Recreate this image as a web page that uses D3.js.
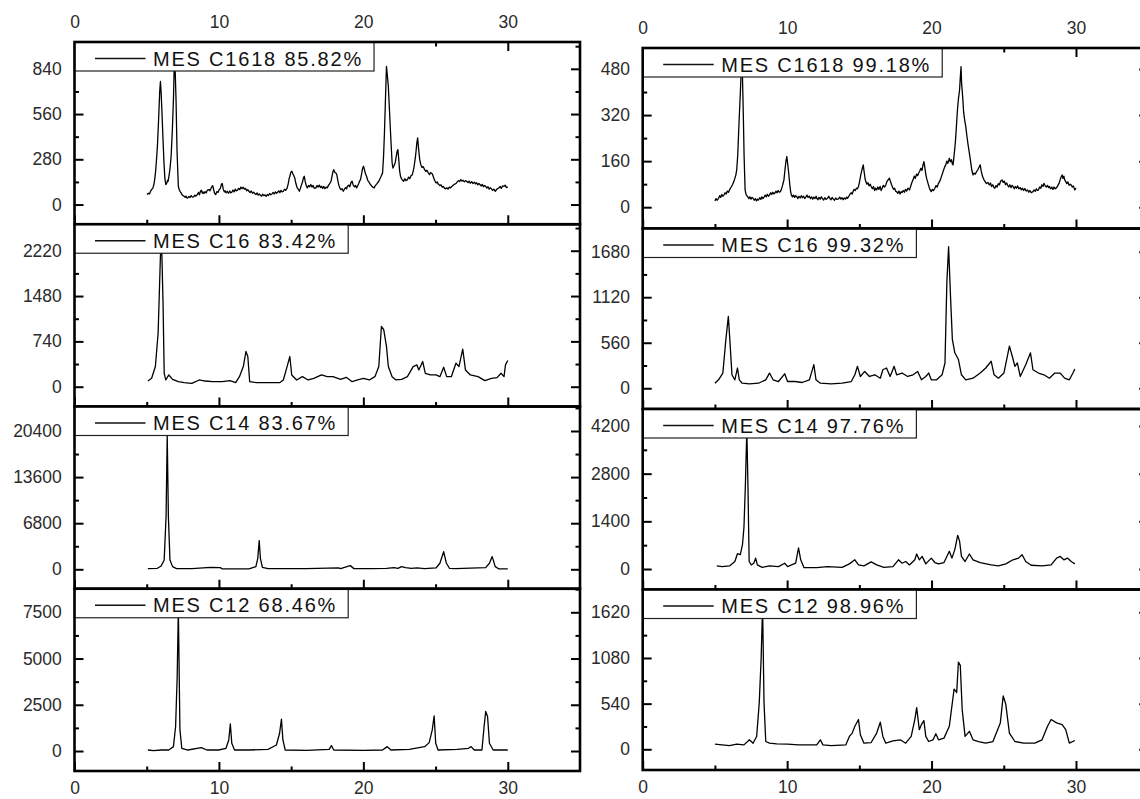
<!DOCTYPE html>
<html>
<head>
<meta charset="utf-8">
<script src="https://cdn.jsdelivr.net/npm/d3@7"></script>
<style>
  body { margin: 0; background: #fff; }
  svg { display: block; font-family: "Liberation Sans", Arial, sans-serif; }
</style>
</head>
<body>
<svg id="chart" width="1140" height="799"></svg>
<script>
// ---- data ----
var xTicksMajor = [0, 10, 20, 30];
var xTicksMinor = [5, 15, 25];

var legendLeft  = ["MES C1618 85.82%", "MES C16 83.42%", "MES C14 83.67%", "MES C12 68.46%"];
var legendRight = ["MES C1618 99.18%", "MES C16 99.32%", "MES C14 97.76%", "MES C12 98.96%"];

var yTicksLeft  = [[0, 280, 560, 840], [0, 740, 1480, 2220], [0, 6800, 13600, 20400], [0, 2500, 5000, 7500]];
var yTicksRight = [[0, 160, 320, 480], [0, 560, 1120, 1680], [0, 1400, 2800, 4200], [0, 540, 1080, 1620]];

var yDomainsLeft  = [[-122, 1006], [-323, 2652], [-2869, 24014], [-1081, 8773]];
var yDomainsRight = [[-74, 553], [-255, 1965], [-602, 4699], [-245, 1890]];

var c1618a = [[5.02,62],[5.12,70],[5.2,66],[5.28,85],[5.34,93],[5.42,100],[5.5,125],[5.55,154],[5.62,210],[5.68,280],[5.74,360],[5.82,520],[5.9,700],[5.95,762],[6.0,690],[6.06,560],[6.13,401],[6.2,250],[6.26,160],[6.32,124],[6.38,130],[6.44,150],[6.48,144],[6.55,180],[6.62,230],[6.69,299],[6.77,450],[6.85,649],[6.93,957],[7.03,649],[7.1,330],[7.19,113],[7.26,90],[7.32,80],[7.38,72],[7.45,60],[7.52,55],[7.59,51],[7.66,45],[7.72,52],[7.79,40],[7.85,41],[7.93,50],[8.0,44],[8.08,55],[8.16,46],[8.25,47],[8.33,58],[8.41,52],[8.51,62],[8.58,75],[8.65,60],[8.72,82],[8.78,89],[8.85,70],[8.9,78],[8.96,68],[9.04,80],[9.12,72],[9.2,90],[9.3,93],[9.38,85],[9.45,100],[9.52,112],[9.57,117],[9.64,90],[9.7,70],[9.78,62],[9.86,80],[9.94,75],[10.02,93],[10.1,100],[10.17,125],[10.23,130],[10.3,95],[10.38,78],[10.44,85],[10.49,72],[10.58,82],[10.66,70],[10.75,84],[10.82,72],[10.89,76],[10.97,90],[11.05,78],[11.13,95],[11.2,85],[11.29,89],[11.36,100],[11.44,92],[11.52,108],[11.6,98],[11.68,107],[11.76,95],[11.84,100],[11.92,85],[12.0,92],[12.08,82],[12.16,74],[12.24,84],[12.32,70],[12.4,76],[12.48,68],[12.56,62],[12.64,72],[12.72,58],[12.8,66],[12.87,58],[12.95,52],[13.03,64],[13.11,55],[13.19,60],[13.27,51],[13.35,62],[13.43,56],[13.51,68],[13.59,60],[13.67,66],[13.75,75],[13.83,65],[13.91,78],[13.99,70],[14.06,76],[14.14,85],[14.22,74],[14.3,88],[14.38,78],[14.46,82],[14.54,95],[14.62,88],[14.72,101],[14.8,130],[14.86,160],[14.91,175],[14.98,200],[15.05,206],[15.12,190],[15.18,180],[15.25,165],[15.33,130],[15.41,105],[15.49,95],[15.57,82],[15.64,100],[15.71,120],[15.78,138],[15.85,165],[15.91,175],[15.98,140],[16.05,115],[16.12,103],[16.2,118],[16.28,110],[16.36,124],[16.44,108],[16.52,118],[16.6,100],[16.71,103],[16.79,118],[16.87,108],[16.95,120],[17.03,105],[17.1,113],[17.18,100],[17.26,112],[17.34,98],[17.42,108],[17.5,103],[17.58,118],[17.66,128],[17.76,144],[17.84,180],[17.9,205],[17.95,216],[18.02,200],[18.1,195],[18.16,185],[18.23,150],[18.3,120],[18.37,103],[18.45,92],[18.53,98],[18.61,82],[18.69,95],[18.77,105],[18.84,98],[18.9,113],[18.98,120],[19.06,110],[19.14,135],[19.22,144],[19.3,120],[19.38,110],[19.46,118],[19.53,103],[19.6,115],[19.68,130],[19.74,145],[19.8,154],[19.88,190],[19.95,225],[20.01,237],[20.08,215],[20.15,190],[20.22,175],[20.3,150],[20.38,140],[20.45,130],[20.49,124],[20.57,115],[20.65,108],[20.75,103],[20.83,118],[20.91,125],[20.99,135],[21.07,144],[21.15,160],[21.23,175],[21.33,196],[21.4,300],[21.46,443],[21.53,650],[21.6,855],[21.66,800],[21.73,731],[21.8,600],[21.86,484],[21.93,360],[21.99,260],[22.05,226],[22.12,240],[22.2,257],[22.28,300],[22.34,330],[22.39,340],[22.45,280],[22.51,210],[22.57,175],[22.64,160],[22.72,150],[22.79,144],[22.87,160],[22.95,148],[23.05,154],[23.13,170],[23.21,160],[23.3,178],[23.39,185],[23.46,210],[23.52,240],[23.58,278],[23.65,330],[23.7,380],[23.76,412],[23.83,340],[23.9,280],[23.98,247],[24.06,230],[24.14,235],[24.24,216],[24.32,205],[24.4,212],[24.5,196],[24.58,185],[24.66,198],[24.77,191],[24.85,170],[24.93,150],[25.03,134],[25.11,140],[25.2,125],[25.3,117],[25.38,122],[25.46,108],[25.55,112],[25.62,100],[25.69,97],[25.77,105],[25.86,95],[25.95,108],[26.04,103],[26.12,112],[26.2,118],[26.3,125],[26.41,130],[26.5,140],[26.58,148],[26.66,142],[26.75,154],[26.83,145],[26.91,150],[27.0,140],[27.08,148],[27.15,144],[27.24,136],[27.32,145],[27.4,132],[27.5,142],[27.58,130],[27.68,138],[27.76,128],[27.84,135],[27.92,122],[28.0,130],[28.07,124],[28.15,115],[28.23,125],[28.31,110],[28.39,118],[28.47,113],[28.55,102],[28.63,110],[28.71,95],[28.79,104],[28.87,97],[28.95,88],[29.04,95],[29.13,82],[29.2,90],[29.28,98],[29.39,103],[29.47,112],[29.55,100],[29.64,115],[29.74,113],[29.82,120],[29.9,105],[30.0,109]];

var c16a = [[5.08,93],[5.34,137],[5.6,329],[5.79,877],[5.95,2137],[6.03,2350],[6.13,1370],[6.21,219],[6.32,110],[6.53,192],[6.79,121],[7.19,82],[7.59,66],[8.12,55],[8.64,110],[9.04,93],[9.57,82],[10.23,82],[10.76,99],[11.16,66],[11.42,164],[11.69,329],[11.87,575],[12.0,493],[12.13,82],[12.61,66],[13.4,66],[14.2,66],[14.46,110],[14.72,329],[14.91,493],[15.04,192],[15.38,110],[15.78,164],[16.18,110],[16.57,137],[17.1,192],[17.5,164],[17.9,164],[18.42,121],[18.82,153],[19.22,82],[19.61,110],[20.01,137],[20.41,110],[20.8,164],[21.07,329],[21.25,986],[21.41,932],[21.6,658],[21.73,329],[21.99,164],[22.26,110],[22.65,121],[23.05,164],[23.45,329],[23.71,356],[23.84,274],[24.11,411],[24.29,219],[24.64,192],[25.03,192],[25.3,164],[25.56,318],[25.77,164],[26.09,164],[26.41,384],[26.62,329],[26.88,614],[27.07,274],[27.41,192],[27.94,164],[28.42,99],[28.87,137],[29.26,148],[29.53,219],[29.74,164],[29.84,356],[30.0,427]];

var c14a = [[5.08,100],[5.74,150],[6.0,493],[6.21,1380],[6.34,7786],[6.42,19800],[6.5,7786],[6.61,1380],[6.79,394],[7.06,100],[8.12,100],[9.44,296],[10.1,246],[10.23,50],[12.08,50],[12.56,394],[12.69,1626],[12.79,4238],[12.87,1626],[13.01,296],[13.4,100],[16.05,100],[18.29,197],[18.42,100],[19.09,542],[19.35,100],[20.54,100],[21.6,150],[22.13,246],[22.39,150],[22.65,394],[22.92,246],[23.32,150],[23.71,197],[24.24,100],[25.03,197],[25.3,887],[25.56,2612],[25.75,887],[25.96,150],[26.36,100],[28.47,246],[28.73,887],[28.92,1873],[29.13,394],[29.39,50],[30.0,50]];

var c12a = [[5.08,54],[5.47,18],[6.0,54],[6.53,54],[6.85,236],[7.0,1323],[7.11,4041],[7.19,7700],[7.3,1142],[7.43,145],[7.85,54],[8.78,181],[9.17,54],[9.97,54],[10.49,145],[10.68,598],[10.79,1468],[10.89,417],[11.08,54],[12.08,54],[13.4,91],[13.98,326],[14.2,960],[14.33,1721],[14.43,598],[14.59,54],[16.05,36],[17.63,91],[17.79,290],[17.95,54],[20.01,36],[21.33,54],[21.65,236],[21.91,54],[23.18,91],[24.24,236],[24.56,453],[24.77,1142],[24.9,1903],[25.01,417],[25.17,54],[26.49,91],[27.28,145],[27.46,236],[27.68,54],[28.21,54],[28.36,1323],[28.47,2138],[28.6,1866],[28.73,417],[28.99,54],[30.0,54]];

var c1618b = [[5.0,22],[5.08,30],[5.15,24],[5.25,31],[5.33,40],[5.4,34],[5.48,44],[5.55,38],[5.63,43],[5.7,50],[5.78,46],[5.86,56],[5.94,52],[6.01,60],[6.08,66],[6.15,72],[6.23,80],[6.31,89],[6.38,100],[6.45,112],[6.51,130],[6.58,180],[6.64,257],[6.7,330],[6.76,396],[6.81,460],[6.86,520],[6.91,450],[6.96,338],[7.02,180],[7.09,60],[7.15,45],[7.21,40],[7.27,37],[7.35,30],[7.42,36],[7.5,28],[7.57,34],[7.64,31],[7.72,24],[7.8,30],[7.88,22],[7.95,28],[8.02,25],[8.1,33],[8.18,27],[8.25,36],[8.33,30],[8.4,35],[8.48,42],[8.56,36],[8.63,45],[8.71,38],[8.78,43],[8.86,50],[8.93,44],[9.0,52],[9.08,46],[9.15,49],[9.23,56],[9.3,50],[9.38,58],[9.45,52],[9.53,54],[9.6,62],[9.68,75],[9.73,85],[9.78,95],[9.85,130],[9.92,160],[9.98,176],[10.04,150],[10.11,118],[10.18,80],[10.24,55],[10.29,43],[10.37,36],[10.44,42],[10.52,34],[10.59,40],[10.66,37],[10.74,30],[10.82,38],[10.9,32],[10.98,40],[11.06,33],[11.14,38],[11.22,30],[11.29,35],[11.37,42],[11.45,34],[11.53,38],[11.61,30],[11.69,36],[11.77,28],[11.85,35],[11.93,30],[12.01,38],[12.05,31],[12.13,26],[12.21,34],[12.29,28],[12.37,36],[12.45,30],[12.53,25],[12.61,33],[12.69,27],[12.8,31],[12.88,38],[12.96,30],[13.04,26],[13.12,34],[13.2,28],[13.28,24],[13.36,32],[13.44,27],[13.56,29],[13.64,35],[13.72,28],[13.8,33],[13.88,26],[13.96,32],[14.04,28],[14.12,35],[14.19,31],[14.27,38],[14.35,45],[14.43,50],[14.5,46],[14.56,54],[14.64,62],[14.72,58],[14.8,66],[14.87,64],[14.94,72],[15.02,90],[15.1,112],[15.18,130],[15.27,147],[15.34,120],[15.4,98],[15.45,89],[15.52,80],[15.6,85],[15.67,74],[15.75,80],[15.82,72],[15.9,64],[15.98,72],[16.06,58],[16.13,66],[16.2,60],[16.28,70],[16.36,62],[16.44,72],[16.51,58],[16.58,66],[16.66,76],[16.74,70],[16.83,77],[16.9,88],[16.98,94],[17.08,101],[17.15,90],[17.22,80],[17.28,72],[17.36,62],[17.44,66],[17.51,56],[17.58,54],[17.66,48],[17.74,56],[17.82,46],[17.9,54],[17.96,51],[18.04,58],[18.12,52],[18.2,62],[18.28,56],[18.36,66],[18.47,60],[18.55,72],[18.63,85],[18.72,95],[18.8,108],[18.88,100],[18.96,115],[19.04,110],[19.1,118],[19.18,125],[19.26,135],[19.34,128],[19.4,145],[19.47,158],[19.53,140],[19.6,115],[19.66,100],[19.72,89],[19.8,75],[19.88,62],[19.98,54],[20.06,62],[20.14,58],[20.23,66],[20.31,75],[20.39,70],[20.47,82],[20.54,88],[20.61,95],[20.69,108],[20.76,118],[20.84,130],[20.91,140],[20.98,147],[21.06,160],[21.13,152],[21.23,170],[21.3,158],[21.38,165],[21.44,150],[21.49,147],[21.56,180],[21.62,210],[21.66,234],[21.72,280],[21.77,320],[21.81,349],[21.87,380],[21.94,407],[21.99,450],[22.04,488],[22.08,430],[22.13,400],[22.17,372],[22.22,330],[22.3,300],[22.37,280],[22.44,250],[22.52,220],[22.62,187],[22.7,160],[22.78,130],[22.87,112],[22.95,118],[23.03,115],[23.12,124],[23.2,130],[23.28,138],[23.37,147],[23.44,125],[23.52,108],[23.63,95],[23.72,88],[23.8,82],[23.9,86],[24.0,77],[24.08,84],[24.16,72],[24.24,78],[24.32,68],[24.38,66],[24.46,75],[24.54,70],[24.62,82],[24.7,78],[24.78,90],[24.88,95],[24.96,86],[25.04,90],[25.12,78],[25.2,84],[25.26,77],[25.34,70],[25.42,78],[25.5,68],[25.58,76],[25.64,72],[25.72,64],[25.8,72],[25.88,66],[25.96,74],[26.04,64],[26.14,68],[26.22,60],[26.3,66],[26.38,58],[26.46,65],[26.55,56],[26.65,60],[26.73,52],[26.81,58],[26.9,50],[27.02,54],[27.1,60],[27.18,55],[27.26,64],[27.34,58],[27.4,60],[27.48,70],[27.56,66],[27.64,78],[27.72,72],[27.78,83],[27.86,75],[27.94,70],[28.02,76],[28.1,68],[28.16,72],[28.24,64],[28.32,70],[28.4,62],[28.48,70],[28.56,64],[28.66,68],[28.74,75],[28.82,82],[28.9,95],[28.97,105],[29.04,112],[29.1,100],[29.16,108],[29.22,95],[29.29,89],[29.36,82],[29.44,88],[29.52,76],[29.6,80],[29.67,77],[29.74,70],[29.82,74],[29.92,60],[30.0,66]];

var c16b = [[5.0,62],[5.25,104],[5.55,187],[5.76,601],[5.93,884],[6.06,518],[6.18,166],[6.38,104],[6.56,249],[6.69,104],[6.89,62],[7.39,54],[8.02,62],[8.52,104],[8.78,187],[9.03,104],[9.4,83],[9.83,178],[10.03,83],[10.54,83],[11.04,71],[11.54,104],[11.85,290],[12.0,104],[12.3,62],[13.05,54],[13.81,62],[14.44,83],[14.69,166],[14.87,270],[15.07,145],[15.37,207],[15.7,145],[16.07,166],[16.45,124],[16.63,228],[16.88,249],[17.13,145],[17.41,270],[17.58,166],[17.96,187],[18.34,145],[18.72,166],[19.04,207],[19.3,104],[19.6,145],[19.8,187],[19.98,104],[20.35,104],[20.73,166],[20.93,311],[21.06,1307],[21.18,1742],[21.31,1141],[21.44,601],[21.61,436],[21.86,353],[22.07,166],[22.37,104],[22.87,124],[23.37,187],[23.75,249],[24.13,332],[24.33,166],[24.63,124],[25.01,187],[25.39,518],[25.59,394],[25.77,270],[25.94,311],[26.14,145],[26.52,290],[26.85,436],[27.02,228],[27.4,187],[27.78,166],[28.16,124],[28.53,187],[28.91,187],[29.21,124],[29.54,104],[29.79,187],[29.92,236]];

var c14b = [[5.13,90],[5.5,70],[6.01,90],[6.38,220],[6.56,450],[6.76,420],[6.91,720],[7.01,1220],[7.11,2470],[7.21,4100],[7.29,2370],[7.37,220],[7.52,120],[7.69,170],[7.82,320],[7.94,120],[8.27,50],[8.78,90],[9.4,70],[9.83,170],[10.03,70],[10.59,170],[10.79,620],[10.94,270],[11.17,40],[12.05,40],[12.8,70],[13.81,50],[14.31,150],[14.69,270],[14.94,120],[15.32,90],[15.82,210],[16.2,120],[16.7,50],[17.33,70],[17.71,270],[17.96,170],[18.21,220],[18.47,120],[18.84,270],[18.97,440],[19.15,270],[19.35,370],[19.6,150],[19.98,320],[20.23,190],[20.48,150],[20.86,190],[21.23,520],[21.41,320],[21.61,570],[21.81,990],[21.94,820],[22.07,370],[22.32,220],[22.62,440],[22.87,270],[23.37,190],[24.13,120],[24.63,90],[25.14,150],[25.64,270],[26.02,320],[26.27,420],[26.52,220],[26.9,110],[27.65,90],[28.28,120],[28.66,320],[28.91,370],[29.16,270],[29.41,320],[29.67,220],[29.92,150]];

var c12b = [[5.0,60],[5.5,52],[6.01,44],[6.51,60],[7.01,52],[7.39,112],[7.64,72],[7.89,152],[8.07,552],[8.2,1072],[8.3,1700],[8.4,552],[8.52,92],[8.78,72],[9.28,64],[10.03,60],[10.79,52],[11.54,52],[12.05,52],[12.3,112],[12.48,52],[13.05,44],[14.06,52],[14.31,152],[14.51,192],[14.69,272],[14.94,352],[15.07,172],[15.32,72],[15.82,80],[16.2,192],[16.45,320],[16.63,152],[16.83,72],[17.33,100],[17.84,112],[18.21,72],[18.59,152],[18.84,352],[18.97,492],[19.15,232],[19.3,292],[19.47,340],[19.6,152],[19.8,92],[20.1,112],[20.3,184],[20.48,112],[20.86,132],[21.23,272],[21.56,712],[21.74,672],[21.86,1032],[21.99,992],[22.12,472],[22.32,152],[22.62,212],[22.87,112],[23.25,92],[23.75,72],[24.25,92],[24.76,312],[24.96,632],[25.14,532],[25.39,192],[25.77,92],[26.39,72],[27.15,72],[27.65,112],[28.03,272],[28.28,352],[28.66,312],[29.04,292],[29.29,232],[29.54,72],[29.92,104]];

var seriesLeft  = [c1618a, c16a, c14a, c12a];
var seriesRight = [c1618b, c16b, c14b, c12b];

// ---- layout ----
var svg = d3.select('#chart');
var cols = [
  { x0: 74.5, x1: 580, top: 42, bottom: 771, legends: legendLeft, ticks: yTicksLeft, domains: yDomainsLeft, series: seriesLeft },
  { x0: 642.7, x1: 1148.2, top: 48, bottom: 770, legends: legendRight, ticks: yTicksRight, domains: yDomainsRight, series: seriesRight }
];

var TICK_MAJOR = 9, TICK_MINOR = 4.5;
var LABEL_SIZE = '17.5px', LABEL_COLOR = '#2b2b2b';

function styleAxis(g, labels) {
  g.select('.domain').remove();
  g.selectAll('.tick line').attr('stroke', '#000').attr('stroke-width', 2);
  g.selectAll('.tick text')
    .attr('fill', LABEL_COLOR)
    .style('font-size', LABEL_SIZE)
    .style('font-family', '"Liberation Sans", Arial, sans-serif');
  if (!labels) g.selectAll('.tick text').remove();
}

function minorTicks(major, domain) {
  var step = major[1] - major[0], out = [];
  for (var v = major[0] - step / 2; v < domain[1]; v += step) {
    if (v > domain[0]) out.push(v);
  }
  return out;
}

cols.forEach(function(c, ci) {
  var h = (c.bottom - c.top) / 4;
  var x = d3.scaleLinear().domain([0, 35]).range([c.x0, c.x1]);

  for (var r = 0; r < 4; r++) {
    var top = c.top + r * h, bottom = top + h;
    var y = d3.scaleLinear().domain(c.domains[r]).range([bottom, top]);
    var g = svg.append('g');

    // x ticks along the bottom, pointing inward
    var gb = g.append('g').attr('transform', 'translate(0,' + bottom + ')');
    gb.call(d3.axisBottom(x).tickValues(xTicksMajor).tickSize(-TICK_MAJOR).tickPadding(11).tickFormat(d3.format('d')));
    styleAxis(gb, r === 3);
    var gbm = g.append('g').attr('transform', 'translate(0,' + bottom + ')');
    gbm.call(d3.axisBottom(x).tickValues(xTicksMinor).tickSize(-TICK_MINOR));
    styleAxis(gbm, false);

    // top axis labels on the first panel
    if (r === 0) {
      var gt = g.append('g').attr('transform', 'translate(0,' + top + ')');
      gt.call(d3.axisTop(x).tickValues(xTicksMajor).tickSize(-TICK_MAJOR).tickPadding(14).tickFormat(d3.format('d')));
      styleAxis(gt, true);
      var gtm = g.append('g').attr('transform', 'translate(0,' + top + ')');
      gtm.call(d3.axisTop(x).tickValues(xTicksMinor).tickSize(-TICK_MINOR));
      styleAxis(gtm, false);
    }

    // y axes left (labels) and right (mirror)
    var mj = c.ticks[r], mn = minorTicks(mj, c.domains[r]);
    var gl = g.append('g').attr('transform', 'translate(' + c.x0 + ',0)');
    gl.call(d3.axisLeft(y).tickValues(mj).tickSize(-TICK_MAJOR).tickPadding(12.7).tickFormat(d3.format('d')));
    styleAxis(gl, true);
    var glm = g.append('g').attr('transform', 'translate(' + c.x0 + ',0)');
    glm.call(d3.axisLeft(y).tickValues(mn).tickSize(-TICK_MINOR));
    styleAxis(glm, false);
    var gr = g.append('g').attr('transform', 'translate(' + c.x1 + ',0)');
    gr.call(d3.axisRight(y).tickValues(mj).tickSize(-TICK_MAJOR));
    styleAxis(gr, false);
    var grm = g.append('g').attr('transform', 'translate(' + c.x1 + ',0)');
    grm.call(d3.axisRight(y).tickValues(mn).tickSize(-TICK_MINOR));
    styleAxis(grm, false);

    // curve, clipped to the panel
    var clipId = 'clip' + ci + r;
    svg.append('clipPath').attr('id', clipId)
      .append('rect').attr('x', c.x0).attr('y', top).attr('width', c.x1 - c.x0).attr('height', h);
    var line = d3.line().x(function(d) { return x(d[0]); }).y(function(d) { return y(d[1]); });
    g.append('path')
      .datum(c.series[r])
      .attr('clip-path', 'url(#' + clipId + ')')
      .attr('d', line)
      .attr('fill', 'none')
      .attr('stroke', '#000')
      .attr('stroke-width', 1.3)
      .attr('stroke-linejoin', 'round');

    // legend box
    var lg = g.append('g');
    var box = lg.append('rect')
      .attr('x', c.x0).attr('y', top)
      .attr('height', 29)
      .attr('fill', '#fff').attr('stroke', '#222').attr('stroke-width', 1.2);
    lg.append('line')
      .attr('x1', c.x0 + 20.5).attr('x2', c.x0 + 71)
      .attr('y1', top + 16.5).attr('y2', top + 16.5)
      .attr('stroke', '#111').attr('stroke-width', 1.3);
    var txt = lg.append('text')
      .attr('x', c.x0 + 78.5).attr('y', top + 23.5)
      .attr('fill', '#111')
      .style('font-size', '20px')
      .style('letter-spacing', '1.8px')
      .text(c.legends[r]);
    var tw = txt.node().getBBox().width;
    box.attr('width', 78.5 + tw + 11);

    // frame
    g.append('rect')
      .attr('x', c.x0).attr('y', top)
      .attr('width', c.x1 - c.x0).attr('height', h)
      .attr('fill', 'none').attr('stroke', '#000').attr('stroke-width', 2.6);
  }
});
</script>
</body>
</html>
